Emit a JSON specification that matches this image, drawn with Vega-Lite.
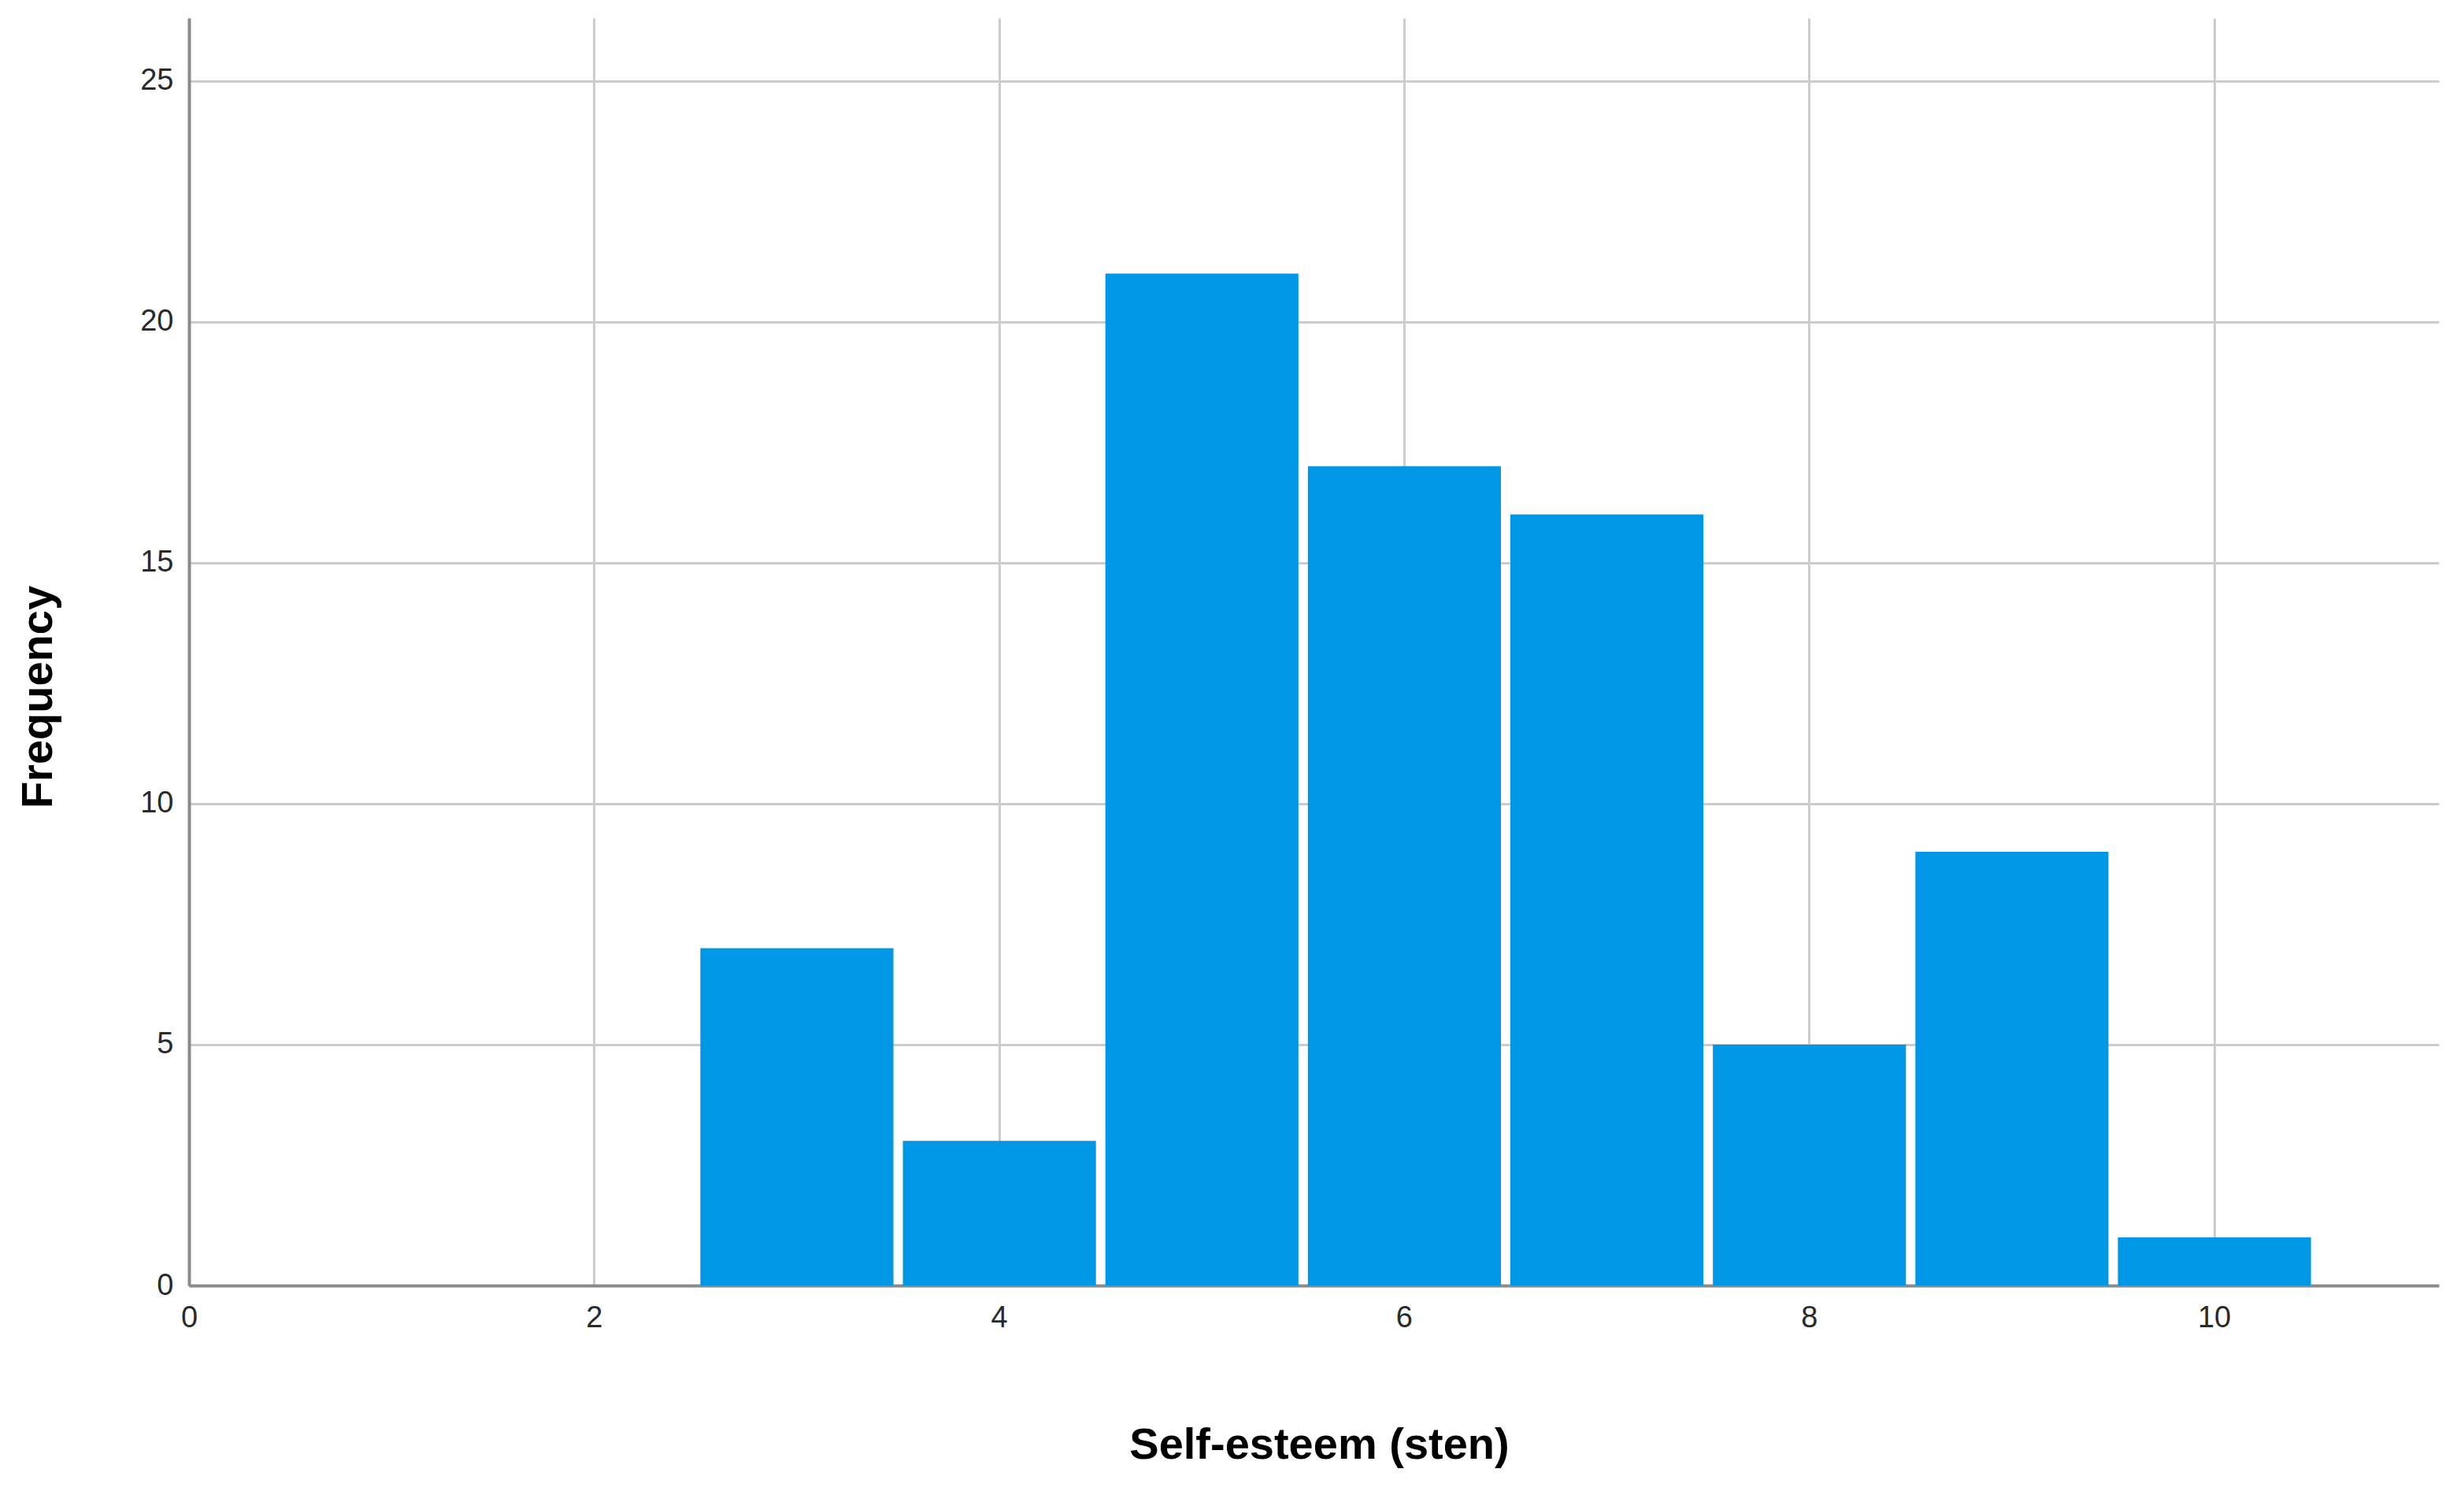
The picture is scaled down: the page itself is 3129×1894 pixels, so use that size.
{
  "$schema": "https://vega.github.io/schema/vega-lite/v6.json",
  "autosize": "none",
  "width": 2857,
  "height": 1610,
  "padding": {"left": 240, "top": 23, "right": 32, "bottom": 261},
  "background": "white",
  "config": {
    "view": {"stroke": null},
    "font": "Liberation Sans"
  },
  "data": {
    "values": [
      {"start": 2.5, "end": 3.5, "count": 7},
      {"start": 3.5, "end": 4.5, "count": 3},
      {"start": 4.5, "end": 5.5, "count": 21},
      {"start": 5.5, "end": 6.5, "count": 17},
      {"start": 6.5, "end": 7.5, "count": 16},
      {"start": 7.5, "end": 8.5, "count": 5},
      {"start": 8.5, "end": 9.5, "count": 9},
      {"start": 9.5, "end": 10.5, "count": 1}
    ]
  },
  "mark": {"type": "bar", "color": "#0097E6", "binSpacing": 12},
  "encoding": {
    "x": {
      "field": "start",
      "type": "quantitative",
      "bin": "binned",
      "scale": {"domain": [0, 11.11], "nice": false, "zero": false},
      "axis": {
        "title": "Self-esteem (sten)",
        "titleFont": "Liberation Sans",
        "titleFontSize": 56,
        "titleFontWeight": "bold",
        "titleColor": "#000000",
        "titleX": 1435,
        "titleY": 219,
        "titleAlign": "center",
        "titleBaseline": "alphabetic",
        "values": [0, 2, 4, 6, 8, 10],
        "format": "d",
        "labelFont": "Liberation Sans",
        "labelFontSize": 38,
        "labelColor": "#2a2a2a",
        "labelPadding": 22,
        "labelFlush": false,
        "ticks": false,
        "tickSize": 0,
        "domainColor": "#8a8a8a",
        "domainWidth": 4,
        "grid": true,
        "gridColor": "#cccccc",
        "gridWidth": 3
      }
    },
    "x2": {"field": "end"},
    "y": {
      "field": "count",
      "type": "quantitative",
      "scale": {"domain": [0, 26.3], "nice": false},
      "axis": {
        "title": "Frequency",
        "titleFont": "Liberation Sans",
        "titleFontSize": 56,
        "titleFontWeight": "bold",
        "titleColor": "#000000",
        "titleAngle": -90,
        "titleX": -163,
        "titleY": 862,
        "titleAlign": "center",
        "titleBaseline": "bottom",
        "values": [0, 5, 10, 15, 20, 25],
        "labelFont": "Liberation Sans",
        "labelFontSize": 38,
        "labelColor": "#2a2a2a",
        "labelPadding": 20,
        "labelFlush": false,
        "ticks": false,
        "tickSize": 0,
        "domainColor": "#8a8a8a",
        "domainWidth": 4,
        "grid": true,
        "gridColor": "#cccccc",
        "gridWidth": 3
      }
    }
  }
}
